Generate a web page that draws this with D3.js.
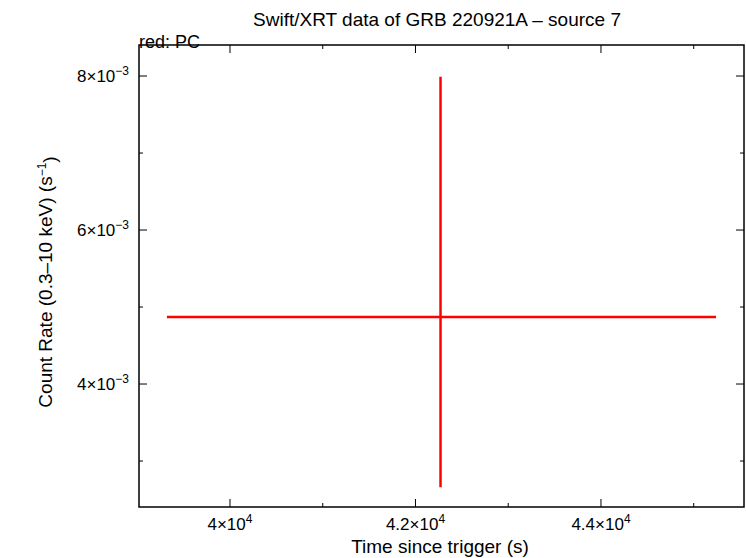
<!DOCTYPE html>
<html><head><meta charset="utf-8">
<script src="https://cdn.jsdelivr.net/npm/d3@7"></script>
<style>body{margin:0;background:#fff}text{font-family:"Liberation Sans",Arial,sans-serif}</style>
</head><body><div id="chart"></div>
<script>
// data
const times = [42270];
const timeLo = [39320];
const timeHi = [45240];
const rates = [4.87e-3];
const rateLo = [2.66e-3];
const rateHi = [7.99e-3];
const xTicks = [40000, 42000, 44000];
const yTicks = [4e-3, 6e-3, 8e-3];

const W = 746, H = 558;
const m = {left: 139, right: 2, top: 45, bottom: 51};
const svg = d3.select("#chart").append("svg").attr("width", W).attr("height", H);
const x = d3.scaleLinear().domain([39019, 45542]).range([m.left, W - m.right]);
const y = d3.scaleLinear().domain([2.403e-3, 8.403e-3]).range([H - m.bottom, m.top]);

const supLabel = (sel, mant, exp) => {
  sel.text(null);
  sel.append("tspan").text(mant + "\u00d710");
  sel.append("tspan").attr("dy", "-0.55em").attr("font-size", "12px").text(exp);
};

const x0 = m.left, x1 = W - m.right, y0 = H - m.bottom, y1 = m.top;
svg.append("rect").attr("x", x0).attr("y", y1).attr("width", x1 - x0).attr("height", y0 - y1)
  .attr("fill", "none").attr("stroke", "#000").attr("stroke-width", 1.5);

const xMinor = d3.range(39000, 46000, 1000).filter(v => v > 39019 && v < 45542);
const yMinor = d3.range(3e-3, 8.5e-3, 1e-3);
const tk = svg.append("g").attr("stroke", "#000");
xMinor.forEach(v => {
  const L = xTicks.includes(v) ? 8 : 4;
  tk.append("line").attr("x1", x(v)).attr("x2", x(v)).attr("y1", y0).attr("y2", y0 - L);
  tk.append("line").attr("x1", x(v)).attr("x2", x(v)).attr("y1", y1).attr("y2", y1 + L);
});
yMinor.forEach(v => {
  const L = yTicks.some(t => Math.abs(t - v) < 1e-9) ? 8 : 4;
  tk.append("line").attr("y1", y(v)).attr("y2", y(v)).attr("x1", x0).attr("x2", x0 + L);
  tk.append("line").attr("y1", y(v)).attr("y2", y(v)).attr("x1", x1).attr("x2", x1 - L);
});

xTicks.forEach(v => {
  svg.append("text").attr("x", x(v)).attr("y", y0 + 23).attr("text-anchor", "middle")
    .attr("font-size", "17px").call(s => supLabel(s, String(v / 1e4), "4"));
});
yTicks.forEach(v => {
  svg.append("text").attr("x", x0 - 10).attr("y", y(v) + 6).attr("text-anchor", "end")
    .attr("font-size", "17px").call(s => supLabel(s, String(Math.round(v * 1e3)), "\u22123"));
});

svg.append("text").attr("x", 437).attr("y", 26).attr("text-anchor", "middle").attr("font-size", "19px")
  .text("Swift/XRT data of GRB 220921A \u2013 source 7");
svg.append("text").attr("x", 139).attr("y", 48).attr("font-size", "18px").text("red: PC");
svg.append("text").attr("x", 440).attr("y", 553).attr("text-anchor", "middle").attr("font-size", "19px")
  .text("Time since trigger (s)");
const yl = svg.append("text").attr("transform", "translate(52,282) rotate(-90)")
  .attr("text-anchor", "middle").attr("font-size", "19px");
yl.append("tspan").text("Count Rate (0.3\u201310 keV) (s");
yl.append("tspan").attr("dy", "-0.5em").attr("font-size", "12px").text("\u22121");
yl.append("tspan").attr("dy", "0.5em").text(")");

const g = svg.append("g").attr("stroke", "red").attr("stroke-width", 2.5);
times.forEach((t, i) => {
  g.append("line").attr("x1", x(timeLo[i])).attr("x2", x(timeHi[i])).attr("y1", y(rates[i])).attr("y2", y(rates[i]));
  g.append("line").attr("x1", x(t)).attr("x2", x(t)).attr("y1", y(rateLo[i])).attr("y2", y(rateHi[i]));
});
</script></body></html>
